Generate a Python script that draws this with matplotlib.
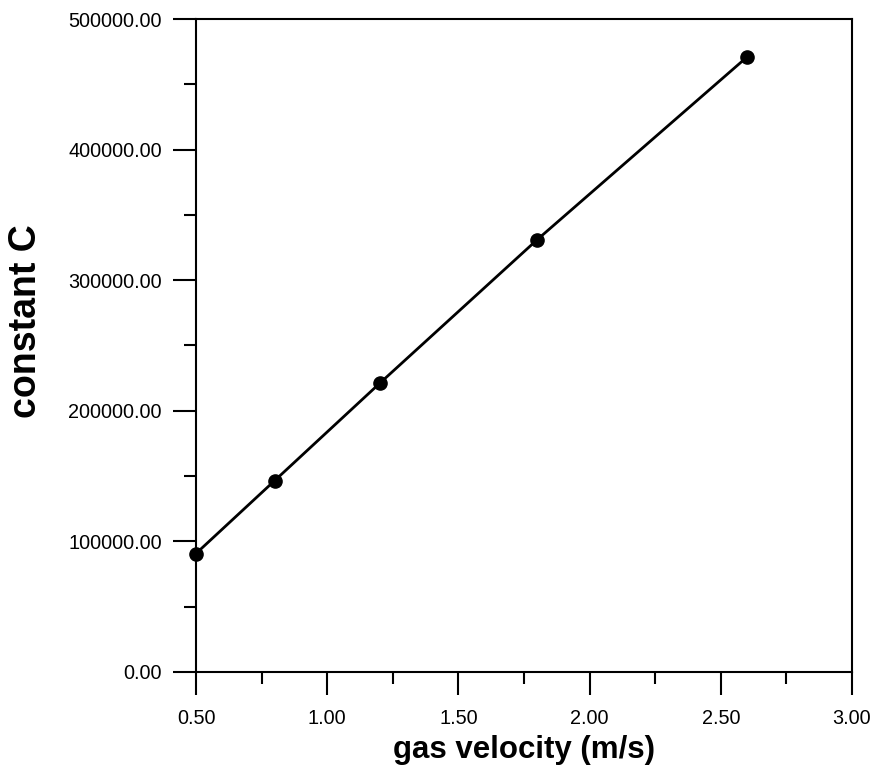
import matplotlib.pyplot as plt
from matplotlib.ticker import MultipleLocator, FormatStrFormatter

# gas velocity (m/s) vs constant C
velocity = [0.5, 0.8, 1.2, 1.8, 2.6]
constant_c = [90600, 146500, 221000, 331000, 471000]

plt.rcParams['font.family'] = ['Liberation Sans', 'DejaVu Sans']

fig = plt.figure(figsize=(8.75, 7.66), dpi=100)
ax = fig.add_axes([0.224, 0.123, 0.7497, 0.852])

ax.plot(velocity, constant_c, color='black', lw=2, marker='o', ms=9.5,
        clip_on=False, zorder=3)

ax.set_xlim(0.5, 3.0)
ax.set_ylim(0, 500000)
ax.xaxis.set_major_locator(MultipleLocator(0.5))
ax.xaxis.set_minor_locator(MultipleLocator(0.25))
ax.yaxis.set_major_locator(MultipleLocator(100000))
ax.yaxis.set_minor_locator(MultipleLocator(50000))
ax.xaxis.set_major_formatter(FormatStrFormatter('%.2f'))
ax.yaxis.set_major_formatter(FormatStrFormatter('%.2f'))

ax.tick_params(which='major', direction='out', length=16.5, width=1.5,
               labelsize=14.3, pad=8)
ax.tick_params(axis='x', which='major', pad=10)
ax.tick_params(which='minor', direction='out', length=8.5, width=1.5)
for s in ax.spines.values():
    s.set_linewidth(1.5)

ax.set_xlabel('gas velocity (m/s)', fontsize=22.5, fontweight='bold', labelpad=5)
ax.set_ylabel('constant C', fontsize=27, fontweight='bold')
ax.yaxis.set_label_coords(-0.231, 0.537)

fig.savefig('out.png', dpi=100)
